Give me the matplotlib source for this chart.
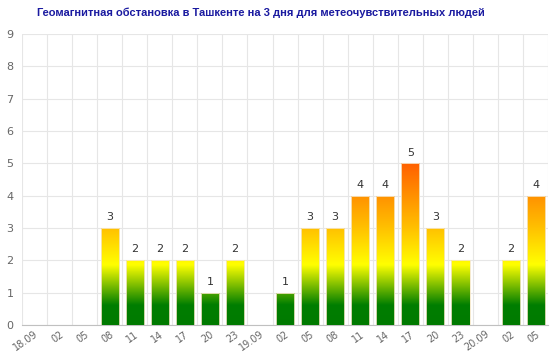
import numpy as np
import matplotlib
matplotlib.use("Agg")
import matplotlib.pyplot as plt
from matplotlib.colors import LinearSegmentedColormap

title = "Геомагнитная обстановка в Ташкенте на 3 дня для метеочувствительных людей"
categories = ["18.09", "02", "05", "08", "11", "14", "17", "20", "23",
              "19.09", "02", "05", "08", "11", "14", "17", "20", "23",
              "20.09", "02", "05"]
values = [0, 0, 0, 3, 2, 2, 2, 1, 2, 0, 1, 3, 3, 4, 4, 5, 3, 2, 0, 2, 4]

fig = plt.figure(figsize=(5.6, 3.52), dpi=100)
ax = fig.add_axes([0.039, 0.077, 0.940, 0.826])

n = len(categories)
x = np.arange(n)
ax.set_xlim(-0.5, n - 0.5)
ax.set_ylim(0, 9)

cmap = LinearSegmentedColormap.from_list(
    "geo",
    [(0.0, "#007a00"), (0.6 / 9, "#007e00"), (1.85 / 9, "#ffff00"),
     (3.0 / 9, "#ffc000"), (4.0 / 9, "#ff9000"), (5.0 / 9, "#ff6000"),
     (1.0, "#ff0000")])
grad = np.linspace(0, 1, 512).reshape(-1, 1)

bars = ax.bar(x, values, width=0.72, color="none", edgecolor="none", zorder=3)
for b, v in zip(bars, values):
    if v <= 0:
        continue
    im = ax.imshow(grad, cmap=cmap, origin="lower", aspect="auto",
                   extent=(-0.5, n - 0.5, 0, 9), zorder=3, interpolation="bilinear")
    im.set_clip_path(b)
    ax.bar(b.get_x() + b.get_width() / 2, v, width=b.get_width(),
           color="none", edgecolor="#f5e6c8", linewidth=0.6, zorder=4)
    ax.text(b.get_x() + b.get_width() / 2, v + 0.18, str(v), ha="center",
            va="bottom", fontsize=8, color="#333333", zorder=5)

ax.set_xlim(-0.5, n - 0.5)
ax.set_ylim(0, 9)
ax.set_yticks(range(0, 10))
ax.set_xticks(x)
ax.set_xticklabels(categories, rotation=35, ha="right", rotation_mode="anchor",
                   fontsize=7, color="#666666")
ax.tick_params(axis="x", length=0, pad=3)
ax.tick_params(axis="y", length=0, labelsize=8, labelcolor="#666666", pad=6)

ax.set_xticks(np.arange(-0.5, n, 1), minor=True)
ax.grid(True, which="minor", axis="x", color="#e6e6e6", linewidth=0.8, zorder=0)
ax.grid(True, which="major", axis="y", color="#e6e6e6", linewidth=0.8, zorder=0)
ax.tick_params(axis="x", which="minor", length=0)

for s in ["top", "right", "left"]:
    ax.spines[s].set_visible(False)
ax.spines["bottom"].set_color("#c0c0c0")

fig.text(0.465, 0.963, title, ha="center", va="center", fontsize=8,
         fontweight="bold", color="#1a1aa0", family="Liberation Sans")

fig.savefig("out.png", dpi=100)
